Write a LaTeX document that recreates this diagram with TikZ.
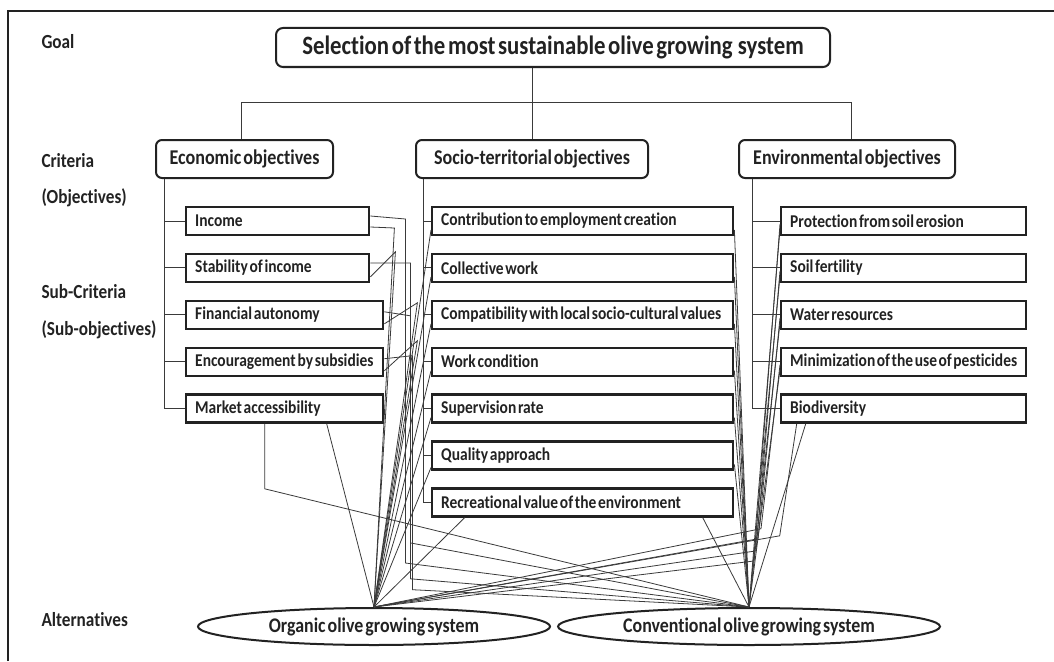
\documentclass[tikz,border=0pt]{standalone}
\usepackage{fontspec}
\setmainfont{Carlito}[FakeStretch=0.86, Ligatures=NoCommon, WordSpace=0.5]
\usetikzlibrary{positioning, shapes.geometric}

\definecolor{ink}{HTML}{222222}
\definecolor{wire}{HTML}{3a3a3a}

\tikzset{
  lvl/.style={anchor=west, text=ink, font=\bfseries\fontsize{20}{23}\selectfont},
  goalbox/.style={draw=ink, line width=2pt, rounded corners=7pt, text=ink,
    minimum width=554pt, minimum height=39pt, font=\bfseries\fontsize{26.5}{31}\selectfont},
  critbox/.style={draw=ink, line width=2pt, rounded corners=6pt, text=ink,
    minimum height=38pt, font=\bfseries\fontsize{21}{24}\selectfont},
  subbox/.style={draw=ink, line width=2.4pt, inner xsep=9pt, inner ysep=0pt,
    minimum height=28pt, text=ink,
    execute at begin node={\hbox to #1\bgroup}, execute at end node={\hfil\egroup},
    font=\bfseries\fontsize{18}{20}\selectfont},
  altbox/.style={ellipse, draw=ink, line width=2pt, inner sep=0pt, text=ink,
    minimum height=37pt, font=\bfseries\fontsize{20.8}{24}\selectfont},
  tree/.style={draw=wire, line width=0.9pt},
  link/.style={draw=wire, line width=0.8pt},
}

\begin{document}
\begin{tikzpicture}[x=1pt, y=-1pt, node distance=16.5pt]
    \useasboundingbox (0,0) rectangle (1054,661);
    \draw[ink, line width=1.2pt] (8,661) -- (8,11) -- (1054,11);

    % level labels
    \node [lvl] (lgoal) at (38,42) {Goal};
    \node [lvl] (lcrit) at (38,161) {Criteria};
    \node [lvl] (lobj) at (38,198) {(Objectives)};
    \node [lvl] (lsub) at (38,292) {Sub-Criteria};
    \node [lvl] (lsubobj) at (38,330) {(Sub-objectives)};
    \node [lvl] (lalt) at (38,620) {Alternatives};

    % goal and criteria
    \node [goalbox] (goal) at (553,47.5) {Selection of the most sustainable olive growing~ system};
    \node [critbox, minimum width=177pt] (econ) at (244.5,159) {Economic objectives};
    \node [critbox, minimum width=232pt] (socio) at (532,159) {Socio-territorial objectives};
    \node [critbox, minimum width=216pt] (env) at (847,159) {Environmental objectives};

    \draw[tree] (socio.north) -- (socio.north |- goal.south);
    \draw[tree] ([xshift=-3pt]econ.north) -- ++(0,-37) -| ([xshift=4pt]env.north);

    % economic sub-criteria
    \node [subbox=165pt, anchor=west] (inc) at (185,221) {Income};
    \node [subbox=165pt, below=of inc.south west, anchor=north west] (stab) {Stability of income};
    \node [subbox=179pt, below=of stab.south west, anchor=north west] (fin) {Financial autonomy};
    \node [subbox=179pt, below=of fin.south west, anchor=north west] (subs) {Encouragement by subsidies};
    \node [subbox=179pt, below=of subs.south west, anchor=north west] (mkt) {Market accessibility};

    % socio-territorial sub-criteria
    \node [subbox=283pt, anchor=west] (empl) at (431,221) {Contribution to employment creation};
    \node [subbox=283pt, below=of empl.south west, anchor=north west] (coll) {Collective work};
    \node [subbox=283pt, below=of coll.south west, anchor=north west] (compat) {Compatibility with local socio-cultural values};
    \node [subbox=283pt, below=of compat.south west, anchor=north west] (work) {Work condition};
    \node [subbox=283pt, below=of work.south west, anchor=north west] (superv) {Supervision rate};
    \node [subbox=283pt, below=of superv.south west, anchor=north west] (qual) {Quality approach};
    \node [subbox=283pt, below=of qual.south west, anchor=north west] (recr) {Recreational value of the environment};

    % environmental sub-criteria
    \node [subbox=227pt, anchor=west] (eros) at (780,221) {Protection from soil erosion};
    \node [subbox=227pt, below=of eros.south west, anchor=north west] (fert) {Soil fertility};
    \node [subbox=227pt, below=of fert.south west, anchor=north west] (water) {Water resources};
    \node [subbox=227pt, below=of water.south west, anchor=north west] (pest) {Minimization of the use of pesticides};
    \node [subbox=227pt, below=of pest.south west, anchor=north west] (biod) {Biodiversity};

    % trunks
    \draw[tree] ([xshift=9pt]econ.south west) |- (mkt.west);
    \draw[tree] (inc.west) -- ++(-20,0);
    \draw[tree] (stab.west) -- ++(-20,0);
    \draw[tree] (fin.west) -- ++(-20,0);
    \draw[tree] (subs.west) -- ++(-20,0);

    \draw[tree] ([xshift=8pt]socio.south west) |- (recr.west);
    \draw[tree] (empl.west) -- ++(-7,0);
    \draw[tree] (coll.west) -- ++(-7,0);
    \draw[tree] (compat.west) -- ++(-7,0);
    \draw[tree] (work.west) -- ++(-7,0);
    \draw[tree] (superv.west) -- ++(-7,0);
    \draw[tree] (qual.west) -- ++(-7,0);

    \draw[tree] ([xshift=14pt]env.south west) |- (biod.west);
    \draw[tree] (eros.west) -- ++(-27,0);
    \draw[tree] (fert.west) -- ++(-27,0);
    \draw[tree] (water.west) -- ++(-27,0);
    \draw[tree] (pest.west) -- ++(-27,0);

    % alternatives
    \node [altbox, minimum width=352pt] (org) at (374,626.5) {Organic olive growing system};
    \node [altbox, minimum width=382pt] (conv) at (749,626.5) {Conventional olive growing system};

    % economic links
    \draw[link] ([yshift=5pt]inc.east) -- ++(35,3) -- ++(0,344) -- (conv.north);
    \draw[link] ([yshift=-6pt]inc.east) -- ++(24,1) -- (org.north);
    \draw[link] ([yshift=5pt]stab.east) -- ++(40,0) -- ++(0,280) -- (conv.north);
    \draw[link] ([yshift=-9pt]stab.east) -- ++(25,-25) -- (org.north);
    \draw[link] ([yshift=3pt]fin.east) -- ++(26,4) -- ++(0,263) -- (conv.north);
    \draw[link] ([yshift=-9pt]fin.east) -- ++(33,-21) -- (org.north);
    \draw[link] ([yshift=3pt]subs.east) -- ++(28,-3) -- ++(0,234) -- (conv.north);
    \draw[link] ([yshift=-9pt]subs.east) -- ++(33,-30) -- (org.north);
    \draw[link] ([xshift=-20pt]mkt.south) -- ++(0,65) -- (conv.north);
    \draw[link] ([xshift=42pt]mkt.south) -- (org.north);

    % socio-territorial links
    \draw[link] ([yshift=-9pt]empl.west) -- (org.north);
    \draw[link] ([yshift=-9pt]coll.west) -- (org.north);
    \draw[link] ([yshift=-9pt]compat.west) -- (org.north);
    \draw[link] ([yshift=-9pt]work.west) -- (org.north);
    \draw[link] ([yshift=-9pt]superv.west) -- (org.north);
    \draw[link] ([yshift=-12pt]qual.west) -- (org.north);
    \draw[link] ([xshift=-118pt]recr.south) -- (org.north);
    \draw[link] ([yshift=-9pt]empl.east) -- (conv.north);
    \draw[link] ([yshift=-9pt]coll.east) -- (conv.north);
    \draw[link] ([yshift=-9pt]compat.east) -- (conv.north);
    \draw[link] ([yshift=-9pt]work.east) -- (conv.north);
    \draw[link] ([yshift=-9pt]superv.east) -- (conv.north);
    \draw[link] ([yshift=-9pt]qual.east) -- (conv.north);
    \draw[link] ([xshift=120pt]recr.south) -- (conv.north);

    % environmental links
    \draw[link] ([yshift=-8pt]eros.west) -- (conv.north);
    \draw[link] ([yshift=-8pt]fert.west) -- (conv.north);
    \draw[link] ([yshift=-8pt]water.west) -- (conv.north);
    \draw[link] ([yshift=-8pt]pest.west) -- (conv.north);
    \draw[link] ([xshift=-98pt]biod.south) -- (conv.north);
    \draw[link] ([yshift=-3pt]eros.west) -- ++(-26,337) -- (org.north);
    \draw[link] ([yshift=-3pt]fert.west) -- ++(-24,280) -- (org.north);
    \draw[link] ([yshift=-3pt]water.west) -- ++(-22,221) -- (org.north);
    \draw[link] ([yshift=-3pt]pest.west) -- ++(-19,164) -- (org.north);
    \draw[link] ([xshift=-107pt]biod.south) -- ++(-17,112) -- (org.north);
\end{tikzpicture}
\end{document}
